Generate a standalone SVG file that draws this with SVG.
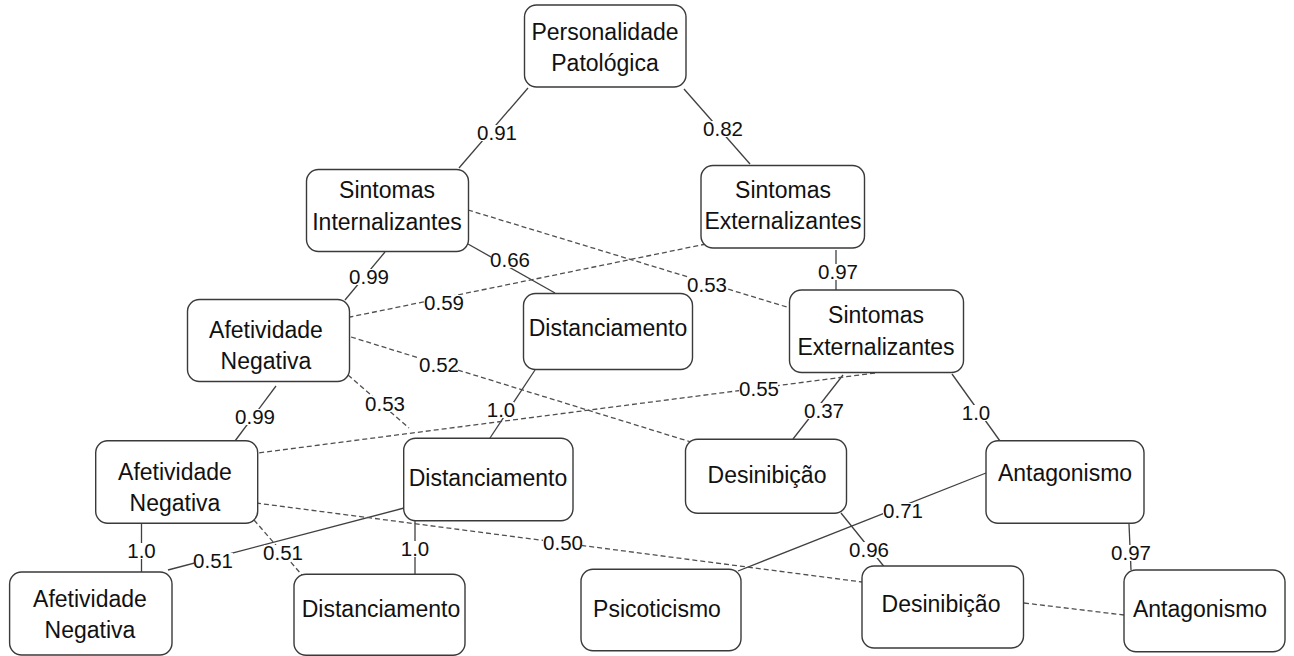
<svg xmlns="http://www.w3.org/2000/svg" width="1294" height="656" viewBox="0 0 1294 656">
<style>
.box{fill:#fff;stroke:#3a3a3a;stroke-width:1.4}
.t{font-family:"Liberation Sans",Arial,sans-serif;font-size:23px;fill:#111;text-anchor:middle}
.l{font-family:"Liberation Sans",Arial,sans-serif;font-size:20.5px;fill:#111;text-anchor:middle}
.s{stroke:#404040;stroke-width:1.3;fill:none}
.d{stroke:#505050;stroke-width:1.3;fill:none;stroke-dasharray:5 3}
.bg{fill:#fff}
</style>
<rect width="1294" height="656" fill="#fff"/>
<g id="connectors">
<line class="s" x1="528" y1="88" x2="459" y2="168"/>
<line class="s" x1="684" y1="89" x2="750" y2="164"/>
<line class="s" x1="385" y1="252" x2="345" y2="300"/>
<line class="s" x1="468" y1="244" x2="555" y2="293"/>
<line class="s" x1="836" y1="250" x2="836" y2="290"/>
<line class="s" x1="276" y1="386" x2="235" y2="441"/>
<line class="s" x1="535" y1="370" x2="490" y2="438"/>
<line class="s" x1="843" y1="375" x2="793" y2="439"/>
<line class="s" x1="952" y1="374" x2="1000" y2="441"/>
<line class="s" x1="141.5" y1="524" x2="141.5" y2="572"/>
<line class="s" x1="415" y1="521" x2="415" y2="574"/>
<line class="s" x1="404" y1="508" x2="168" y2="570"/>
<line class="s" x1="841" y1="513" x2="886" y2="569"/>
<line class="s" x1="986" y1="473" x2="738" y2="571"/>
<line class="s" x1="1129" y1="524" x2="1131" y2="570"/>
<line class="d" x1="468" y1="210" x2="790" y2="308"/>
<line class="d" x1="706" y1="244" x2="350" y2="317"/>
<line class="d" x1="351" y1="337" x2="691" y2="442"/>
<line class="d" x1="348" y1="375" x2="409" y2="428"/>
<line class="d" x1="875" y1="373" x2="258" y2="453"/>
<line class="d" x1="256" y1="503" x2="862" y2="582"/>
<line class="d" x1="254" y1="520" x2="302" y2="575"/>
<line class="d" x1="1024" y1="603" x2="1124" y2="615"/>
<g id="labels">
<rect class="bg" x="478" y="125" width="39" height="16"/><text class="l" x="497" y="140">0.91</text>
<rect class="bg" x="703" y="121" width="39" height="16"/><text class="l" x="723" y="136">0.82</text>
<rect class="bg" x="350" y="269" width="39" height="16"/><text class="l" x="369" y="284">0.99</text>
<rect class="bg" x="491" y="252" width="39" height="16"/><text class="l" x="510" y="267">0.66</text>
<rect class="bg" x="818" y="264" width="39" height="16"/><text class="l" x="838" y="279">0.97</text>
<rect class="bg" x="688" y="277" width="39" height="16"/><text class="l" x="707" y="292">0.53</text>
<rect class="bg" x="424" y="295" width="39" height="16"/><text class="l" x="444" y="310">0.59</text>
<rect class="bg" x="419" y="357" width="39" height="16"/><text class="l" x="439" y="372">0.52</text>
<rect class="bg" x="236" y="409" width="39" height="16"/><text class="l" x="255" y="424">0.99</text>
<rect class="bg" x="366" y="396" width="39" height="16"/><text class="l" x="385" y="411">0.53</text>
<rect class="bg" x="489" y="402" width="25" height="16"/><text class="l" x="501" y="417">1.0</text>
<rect class="bg" x="739" y="381" width="39" height="16"/><text class="l" x="759" y="396">0.55</text>
<rect class="bg" x="805" y="403" width="39" height="16"/><text class="l" x="824" y="418">0.37</text>
<rect class="bg" x="963" y="405" width="25" height="16"/><text class="l" x="976" y="420">1.0</text>
<rect class="bg" x="129" y="543" width="25" height="16"/><text class="l" x="141.5" y="558">1.0</text>
<rect class="bg" x="402" y="541" width="25" height="16"/><text class="l" x="415" y="556">1.0</text>
<rect class="bg" x="194" y="553" width="39" height="16"/><text class="l" x="213" y="568">0.51</text>
<rect class="bg" x="264" y="545" width="39" height="16"/><text class="l" x="283" y="560">0.51</text>
<rect class="bg" x="543" y="535" width="39" height="16"/><text class="l" x="563" y="550">0.50</text>
<rect class="bg" x="883" y="503" width="39" height="16"/><text class="l" x="903" y="518">0.71</text>
<rect class="bg" x="849" y="542" width="39" height="16"/><text class="l" x="869" y="557">0.96</text>
<rect class="bg" x="1111" y="545" width="39" height="16"/><text class="l" x="1131" y="560">0.97</text>
</g>
</g>
<g id="n1"><rect class="box" x="524.5" y="5" width="161.5" height="82" rx="12"/><text class="t" x="605" y="40">Personalidade</text><text class="t" x="605" y="71">Patológica</text></g>
<g id="n2"><rect class="box" x="306.5" y="169.5" width="162" height="82" rx="12"/><text class="t" x="387" y="198">Sintomas</text><text class="t" x="387" y="230">Internalizantes</text></g>
<g id="n3"><rect class="box" x="701" y="165.5" width="163.5" height="82.5" rx="12"/><text class="t" x="783" y="198">Sintomas</text><text class="t" x="783" y="229">Externalizantes</text></g>
<g id="n4"><rect class="box" x="187.5" y="299.5" width="162" height="82" rx="12"/><text class="t" x="266" y="338">Afetividade</text><text class="t" x="266" y="369">Negativa</text></g>
<g id="n5"><rect class="box" x="523.5" y="293.5" width="169" height="76" rx="12"/><text class="t" x="608" y="336">Distanciamento</text></g>
<g id="n6"><rect class="box" x="789.5" y="290" width="174" height="82.5" rx="12"/><text class="t" x="876" y="323">Sintomas</text><text class="t" x="876" y="355">Externalizantes</text></g>
<g id="n7"><rect class="box" x="95.7" y="440.7" width="162" height="82.6" rx="12"/><text class="t" x="175" y="480">Afetividade</text><text class="t" x="175" y="511">Negativa</text></g>
<g id="n8"><rect class="box" x="403.7" y="438.3" width="169.3" height="82.4" rx="12"/><text class="t" x="488" y="486">Distanciamento</text></g>
<g id="n9"><rect class="box" x="685.5" y="439.3" width="161" height="74" rx="12"/><text class="t" x="767" y="483">Desinibição</text></g>
<g id="n10"><rect class="box" x="986" y="440.7" width="158" height="82.6" rx="12"/><text class="t" x="1065" y="481">Antagonismo</text></g>
<g id="n11"><rect class="box" x="9.6" y="572" width="162.4" height="83" rx="12"/><text class="t" x="90" y="607">Afetividade</text><text class="t" x="90" y="638">Negativa</text></g>
<g id="n12"><rect class="box" x="294" y="574.3" width="171" height="81" rx="12"/><text class="t" x="381" y="617">Distanciamento</text></g>
<g id="n13"><rect class="box" x="581" y="569.3" width="160" height="81.4" rx="12"/><text class="t" x="657" y="617">Psicoticismo</text></g>
<g id="n14"><rect class="box" x="862" y="566" width="161.5" height="82" rx="12"/><text class="t" x="941" y="612">Desinibição</text></g>
<g id="n15"><rect class="box" x="1124" y="570" width="161" height="81.7" rx="12"/><text class="t" x="1200" y="617">Antagonismo</text></g>
</svg>
